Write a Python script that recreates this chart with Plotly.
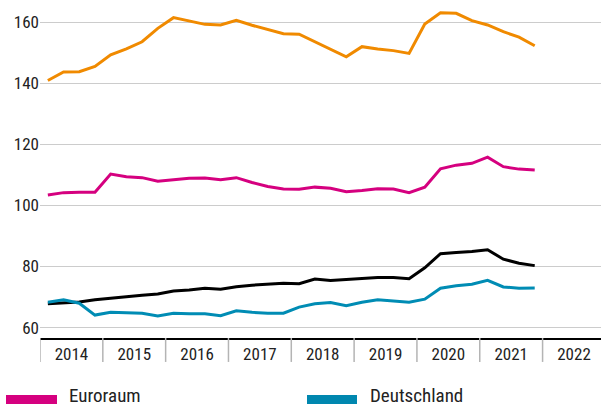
import plotly.graph_objects as go

# Quarterly observations, 2014 Q1 to 2021 Q4
years = list(range(2014, 2022))
quarters = [y + (q - 0.5) / 4 for y in years for q in range(1, 5)]

orange_series = [140.9, 143.7, 143.8, 145.5, 149.3, 151.3, 153.6, 158.0,
                 161.5, 160.5, 159.3, 159.1, 160.6, 159.0, 157.7, 156.2,
                 156.1, 153.6, 151.2, 148.7, 152.0, 151.2, 150.7, 149.8,
                 159.4, 163.1, 162.9, 160.5, 159.1, 156.9, 155.1, 152.3]
euroraum = [103.4, 104.2, 104.3, 104.3, 110.3, 109.4, 109.1, 107.9,
            108.4, 108.9, 109.0, 108.4, 109.1, 107.5, 106.2, 105.4,
            105.3, 106.0, 105.6, 104.5, 104.9, 105.5, 105.4, 104.2,
            106.0, 112.0, 113.2, 113.8, 115.8, 112.7, 111.9, 111.6]
black_series = [67.8, 68.0, 68.4, 69.1, 69.6, 70.3, 70.6, 71.0,
                72.0, 72.3, 72.9, 72.6, 73.4, 73.9, 74.1, 74.5,
                74.4, 75.9, 75.4, 75.7, 76.2, 76.4, 76.4, 76.0,
                79.6, 84.2, 84.6, 84.9, 85.5, 82.4, 81.1, 80.3]
deutschland = [68.3, 69.1, 68.0, 64.1, 65.0, 64.9, 64.7, 63.8,
               64.7, 64.5, 64.5, 63.9, 65.5, 65.0, 64.7, 64.7,
               66.7, 67.8, 68.2, 67.2, 68.3, 69.1, 68.8, 68.3,
               69.3, 72.9, 73.7, 74.2, 75.5, 73.3, 72.9, 73.0]

year_labels = [str(y) for y in range(2014, 2023)]
y_ticks = [60, 80, 100, 120, 140, 160]

ORANGE = "#F08A00"
MAGENTA = "#D5007F"
BLACK = "#000000"
BLUE = "#008CB4"
FONT = "Liberation Sans Narrow, Roboto Condensed, DejaVu Sans Condensed, sans-serif"

fig = go.Figure()
for vals, col in [(orange_series, ORANGE), (euroraum, MAGENTA),
                  (black_series, BLACK), (deutschland, BLUE)]:
    fig.add_trace(go.Scatter(x=quarters, y=vals, mode="lines",
                             line=dict(color=col, width=3),
                             showlegend=False, hoverinfo="skip"))

# Year separators below the axis
shapes = []
for y in range(2014, 2023):
    shapes.append(dict(type="line", xref="x", yref="paper", x0=y, x1=y,
                       y0=0, y1=-0.073, line=dict(color="#B4B4B4", width=1.5)))

# Legend swatches drawn at the bottom
legend_items = [("Euroraum", MAGENTA, 6, 57, 68), ("Deutschland", "#0087AF", 307, 357, 369)]
annotations = []
for name, col, x0, x1, tx in legend_items:
    shapes.append(dict(type="rect", xref="paper", yref="paper",
                       x0=(x0 - 40) / 561, x1=(x1 - 40) / 561,
                       y0=(338 - 404) / 328, y1=(338 - 395) / 328,
                       fillcolor=col, line=dict(width=0)))
    annotations.append(dict(text=name, xref="paper", yref="paper",
                            x=(tx - 40) / 561, y=(338 - 408) / 328,
                            xanchor="left", yanchor="bottom", showarrow=False,
                            borderpad=0,
                            font=dict(family=FONT, size=19, color="#222222")))

fig.update_layout(
    width=601, height=408,
    margin=dict(l=40, r=0, t=10, b=70),
    paper_bgcolor="white", plot_bgcolor="white",
    shapes=shapes, annotations=annotations,
    xaxis=dict(range=[2014, 2022.93], tickmode="array",
               tickvals=[y + 0.5 for y in range(2014, 2023)], ticktext=year_labels,
               ticks="", showgrid=False, zeroline=False,
               showline=True, linecolor="#000000", linewidth=1.5,
               tickfont=dict(family=FONT, size=17, color="#222222"),
               ticklabelstandoff=0),
    yaxis=dict(range=[56.6, 164], tickmode="array", tickvals=y_ticks,
               showgrid=True, gridcolor="#CCCCCC", gridwidth=1.2,
               zeroline=False, showline=False, ticks="",
               tickfont=dict(family=FONT, size=17, color="#222222")),
)

fig.write_html("out.html")
